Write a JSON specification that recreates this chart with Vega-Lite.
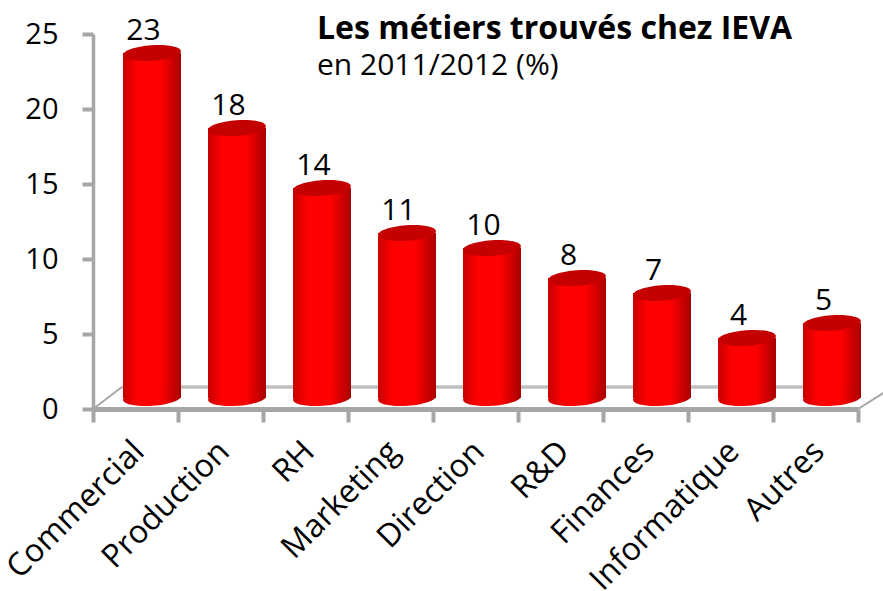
{
"$schema":"https://vega.github.io/schema/vega-lite/v6.json",
"autosize":"none","width":765,"height":375,
"padding":{"left":93,"top":34,"right":25,"bottom":182},
"background":"white",
"title":{"text":"Les métiers trouvés chez IEVA","subtitle":"en 2011/2012 (%)","anchor":"start","frame":"group","orient":"top","dx":224,"dy":70,"font":"Open Sans","fontSize":32,"fontWeight":"bold","color":"#000000","subtitleFont":"Open Sans","subtitleFontSize":30,"subtitleColor":"#000000","subtitlePadding":5},
"config":{"view":{"stroke":null}},
"datasets":{
"metiers":[
{"metier":"Commercial","pct":23},{"metier":"Production","pct":18},{"metier":"RH","pct":14},{"metier":"Marketing","pct":11},{"metier":"Direction","pct":10},{"metier":"R&D","pct":8},{"metier":"Finances","pct":7},{"metier":"Informatique","pct":4},{"metier":"Autres","pct":5}],
"sol":[
{"seg":"fond","u":0.34,"v":1.47},{"seg":"fond","u":9.02,"v":1.47}],
"cotes":[
{"seg":"gauche","u":0,"v":0},{"seg":"gauche","u":0.34,"v":1.47},
{"seg":"droite","u":9,"v":0},{"seg":"droite","u":9.3,"v":1.07}]
},
"layer":[
{"data":{"name":"sol"},"mark":{"type":"line","color":"#bfbfbf","strokeWidth":3.5,"clip":false},
"encoding":{"x":{"field":"u","type":"quantitative","scale":{"domain":[0,9]},"axis":null},"y":{"field":"v","type":"quantitative","scale":{"domain":[0,25],"nice":false},"title":null,
"axis":{"values":[0,5,10,15,20,25],"grid":false,"domainColor":"#a6a6a6","domainWidth":3.5,"tickColor":"#a6a6a6","tickWidth":4,"tickSize":11,"labelFont":"Open Sans","labelFontSize":29,"labelColor":"#000000","labelPadding":24}},"detail":{"field":"seg"}}},
{"data":{"name":"cotes"},"mark":{"type":"line","color":"#a6a6a6","strokeWidth":2,"clip":false},
"encoding":{"x":{"field":"u","type":"quantitative","scale":{"domain":[0,9]},"axis":null},"y":{"field":"v","type":"quantitative"},"detail":{"field":"seg"}}},
{"data":{"name":"metiers"},"layer":[
{"mark":{"type":"bar","width":58,"xOffset":16.5,"yOffset":-11,"y2Offset":-11,
"color":{"gradient":"linear","x1":0,"x2":1,"y1":0,"y2":0,"stops":[{"offset":0,"color":"#c80000"},{"offset":0.25,"color":"#ff0000"},{"offset":0.65,"color":"#ff0000"},{"offset":1,"color":"#a80000"}]}},
"encoding":{"x":{"field":"metier","type":"nominal","sort":null,"scale":{"paddingInner":0,"paddingOuter":0},"title":null,
"axis":{"domain":true,"domainColor":"#a6a6a6","domainWidth":5,"tickColor":"#a6a6a6","tickWidth":4,"tickSize":13,"tickBand":"extent","labelAngle":-45,"labelAlign":"right","labelBaseline":"middle","labelFont":"Open Sans","labelFontSize":32,"labelColor":"#000000","labelPadding":24,"labelOverlap":false,"labelLimit":0,"labelBound":false,"labelOffset":3}},
"y":{"field":"pct","type":"quantitative"}}},
{"mark":{"type":"point","filled":true,"opacity":1,"shape":"M-1,0 A1,0.27 0 1,1 1,0 A1,0.27 0 1,1 -1,0 Z","size":3364,"angle":-4,"xOffset":16.5,"yOffset":-11,
"color":{"gradient":"linear","x1":0,"x2":1,"y1":0,"y2":0,"stops":[{"offset":0,"color":"#c80000"},{"offset":0.25,"color":"#ff0000"},{"offset":0.65,"color":"#ff0000"},{"offset":1,"color":"#a80000"}]}},
"encoding":{"x":{"field":"metier","type":"nominal","sort":null},"y":{"datum":0,"type":"quantitative"}}},
{"mark":{"type":"point","filled":true,"opacity":1,"shape":"M-1,0 A1,0.27 0 1,1 1,0 A1,0.27 0 1,1 -1,0 Z","size":3364,"angle":-4,"xOffset":16.5,"yOffset":-11,"color":"#c40000"},
"encoding":{"x":{"field":"metier","type":"nominal","sort":null},"y":{"field":"pct","type":"quantitative"}}},
{"mark":{"type":"text","font":"Open Sans","fontSize":30,"color":"#000000","baseline":"alphabetic","align":"center","xOffset":8,"yOffset":-24},
"encoding":{"x":{"field":"metier","type":"nominal","sort":null},"y":{"field":"pct","type":"quantitative"},"text":{"field":"pct","type":"quantitative"}}}
]}
],
"resolve":{"scale":{"x":"independent"}}
}
